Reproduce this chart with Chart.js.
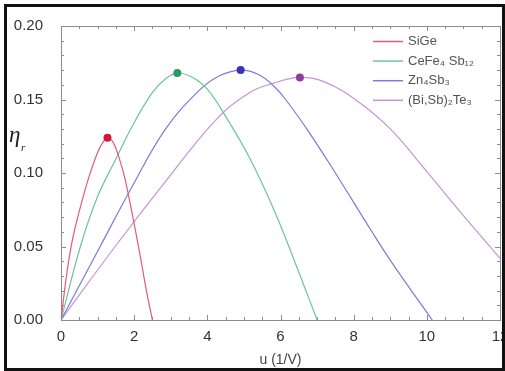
<!DOCTYPE html>
<html><head><meta charset="utf-8">
<script src="https://cdn.jsdelivr.net/npm/chart.js@4/dist/chart.umd.min.js"></script>
<style>
html,body{margin:0;padding:0;background:#fff;width:505px;height:371px;overflow:hidden}
#wrap{position:absolute;left:0;top:0;width:505px;height:371px}
#frame{position:absolute;left:4px;top:4px;width:501px;height:367px;box-sizing:border-box;border:3px solid #111;pointer-events:none}
</style></head><body>
<div id="wrap"><canvas id="c" width="505" height="371"></canvas></div>
<div id="frame"></div>
<script>
// ---- data ----
const seriesNames = ['SiGe', 'CeFe\u2084 Sb\u2081\u2082', 'Zn\u2084Sb\u2083', '(Bi,Sb)\u2082Te\u2083'];
const uSiGe   = [0, 0.15, 0.30, 0.50, 0.76, 1.00, 1.15, 1.27, 1.42, 1.58, 1.75, 2.08, 2.35, 2.50];
const etaSiGe = [0, 0.030, 0.053, 0.074, 0.097, 0.114, 0.121, 0.124, 0.121, 0.111, 0.096, 0.055, 0.018, 0];
const uCeFe   = [0, 0.53, 1.00, 1.49, 1.95, 2.49, 2.85, 3.18, 3.60, 4.00, 4.50, 5.14, 5.82, 6.40, 7.00];
const etaCeFe = [0, 0.050, 0.084, 0.109, 0.132, 0.1545, 0.164, 0.168, 0.165, 0.157, 0.1385, 0.111, 0.075, 0.039, 0];
const uZn     = [0, 1.07, 1.95, 2.86, 3.77, 4.32, 4.91, 5.40, 5.82, 6.14, 6.80, 7.50, 8.50, 9.10, 10.15];
const etaZn   = [0, 0.050, 0.091, 0.130, 0.156, 0.166, 0.170, 0.167, 0.159, 0.150, 0.127, 0.100, 0.060, 0.037, 0];
const uBiSb   = [0, 1.48, 2.88, 4.23, 5.14, 5.80, 6.53, 7.20, 8.10, 9.00, 10.00, 11.00, 12.00];
const etaBiSb = [0, 0.050, 0.095, 0.136, 0.1545, 0.161, 0.165, 0.162, 0.149, 0.130, 0.101, 0.071, 0.042];
const xTickStep = 2, xMinorStep = 0.5, xMin = 0, xMax = 12;
const yTickStep = 0.05, yMinorStep = 0.01, yMin = 0, yMax = 0.20;
const xTitle = 'u (1/V)';
const yTitle = '\u03B7';
const yTitleSub = 'r';

const lineColors = ['#e65a78', '#6cc596', '#7b7bdb', '#c594d6'];
const dotColors  = ['#d4163f', '#2b9a62', '#3434b4', '#8e3f9e'];

function pts(us, es){ return us.map((u,i)=>({x:u, y:es[i]})); }
const allData = [pts(uSiGe,etaSiGe), pts(uCeFe,etaCeFe), pts(uZn,etaZn), pts(uBiSb,etaBiSb)];

const datasets = allData.map((d,i)=>{
  let peak = 0; d.forEach((p,j)=>{ if(p.y>d[peak].y) peak=j; });
  return {
    label: seriesNames[i], data: d,
    borderColor: lineColors[i], borderWidth: 1.2,
    tension: 0.4,
    pointRadius: ctx => ctx.dataIndex === peak ? 4 : 0,
    pointBackgroundColor: dotColors[i], pointBorderColor: dotColors[i], pointBorderWidth: 0,
    fill: false
  };
});

const decor = {
  id: 'decor',
  beforeDatasetsDraw(chart){
    const {ctx, chartArea:a, scales:{x,y}} = chart;
    ctx.save();
    ctx.strokeStyle = '#8c8c8c'; ctx.lineWidth = 1;
    ctx.strokeRect(Math.round(a.left)+0.5, Math.round(a.top)+0.5, Math.round(a.right-a.left), Math.round(a.bottom-a.top));
    ctx.beginPath();
    const nx = Math.round((xMax-xMin)/xMinorStep);
    for(let k=0;k<=nx;k++){
      const v = xMin + k*xMinorStep;
      const major = Math.abs(v/xTickStep - Math.round(v/xTickStep))<1e-6;
      const L = major?5:3;
      const px = Math.round(x.getPixelForValue(v))+0.5;
      ctx.moveTo(px, a.bottom); ctx.lineTo(px, a.bottom-L);
      ctx.moveTo(px, a.top); ctx.lineTo(px, a.top+L);
    }
    const ny = Math.round((yMax-yMin)/yMinorStep);
    for(let k=0;k<=ny;k++){
      const v = yMin + k*yMinorStep;
      const major = Math.abs(v/yTickStep - Math.round(v/yTickStep))<1e-6;
      const L = major?5:3;
      const py = Math.round(y.getPixelForValue(v))+0.5;
      ctx.moveTo(a.left, py); ctx.lineTo(a.left+L, py);
      ctx.moveTo(a.right, py); ctx.lineTo(a.right-L, py);
    }
    ctx.stroke();
    ctx.restore();
  },
  afterDraw(chart){
    const {ctx} = chart;
    ctx.save();
    ctx.font = '13px "Liberation Sans", Arial, sans-serif';
    ctx.textBaseline = 'middle'; ctx.textAlign = 'left';
    chart.data.datasets.forEach((ds,i)=>{
      const yy = 41.5 + i*19.6;
      ctx.strokeStyle = ds.borderColor; ctx.lineWidth = 1.5;
      ctx.beginPath(); ctx.moveTo(373, yy); ctx.lineTo(403, yy); ctx.stroke();
      ctx.fillStyle = '#555';
      ctx.fillText(ds.label, 408, yy);
    });
    ctx.fillStyle = '#222';
    ctx.font = 'italic 23px "Liberation Serif", "DejaVu Serif", serif';
    ctx.textBaseline = 'alphabetic';
    ctx.fillText(yTitle, 9, 142);
    ctx.font = 'italic 11px "Liberation Serif", "DejaVu Serif", serif';
    ctx.fillText(yTitleSub, 21, 151);
    ctx.restore();
  }
};

new Chart(document.getElementById('c'), {
  type: 'line',
  data: { datasets },
  plugins: [decor],
  options: {
    responsive: false, animation: false,
    layout: { padding: { left: 0, right: 5, top: 26, bottom: 0 } },
    plugins: { legend: { display: false }, tooltip: { enabled: false } },
    scales: {
      x: {
        type: 'linear', min: xMin, max: xMax,
        ticks: { stepSize: xTickStep, color: '#333', padding: 8, maxRotation: 0, autoSkip: false,
                 font: { family: '"Liberation Sans", Arial, sans-serif', size: 15 } },
        grid: { display: false, drawTicks: false }, border: { display: false },
        title: { display: true, text: xTitle, color: '#444', padding: { top: 0, bottom: 2 },
                 font: { family: '"Liberation Sans", Arial, sans-serif', size: 14 } },
        afterFit(s){ s.height = 51; s.paddingLeft = 0; s.paddingRight = 0; }
      },
      y: {
        type: 'linear', min: yMin, max: yMax,
        ticks: { stepSize: yTickStep, color: '#333', padding: 18, callback: v => v.toFixed(2),
                 font: { family: '"Liberation Sans", Arial, sans-serif', size: 15 } },
        grid: { display: false, drawTicks: false }, border: { display: false },
        afterFit(s){ s.width = 61; s.paddingTop = 0; s.paddingBottom = 0; }
      }
    }
  }
});
</script>
</body></html>
